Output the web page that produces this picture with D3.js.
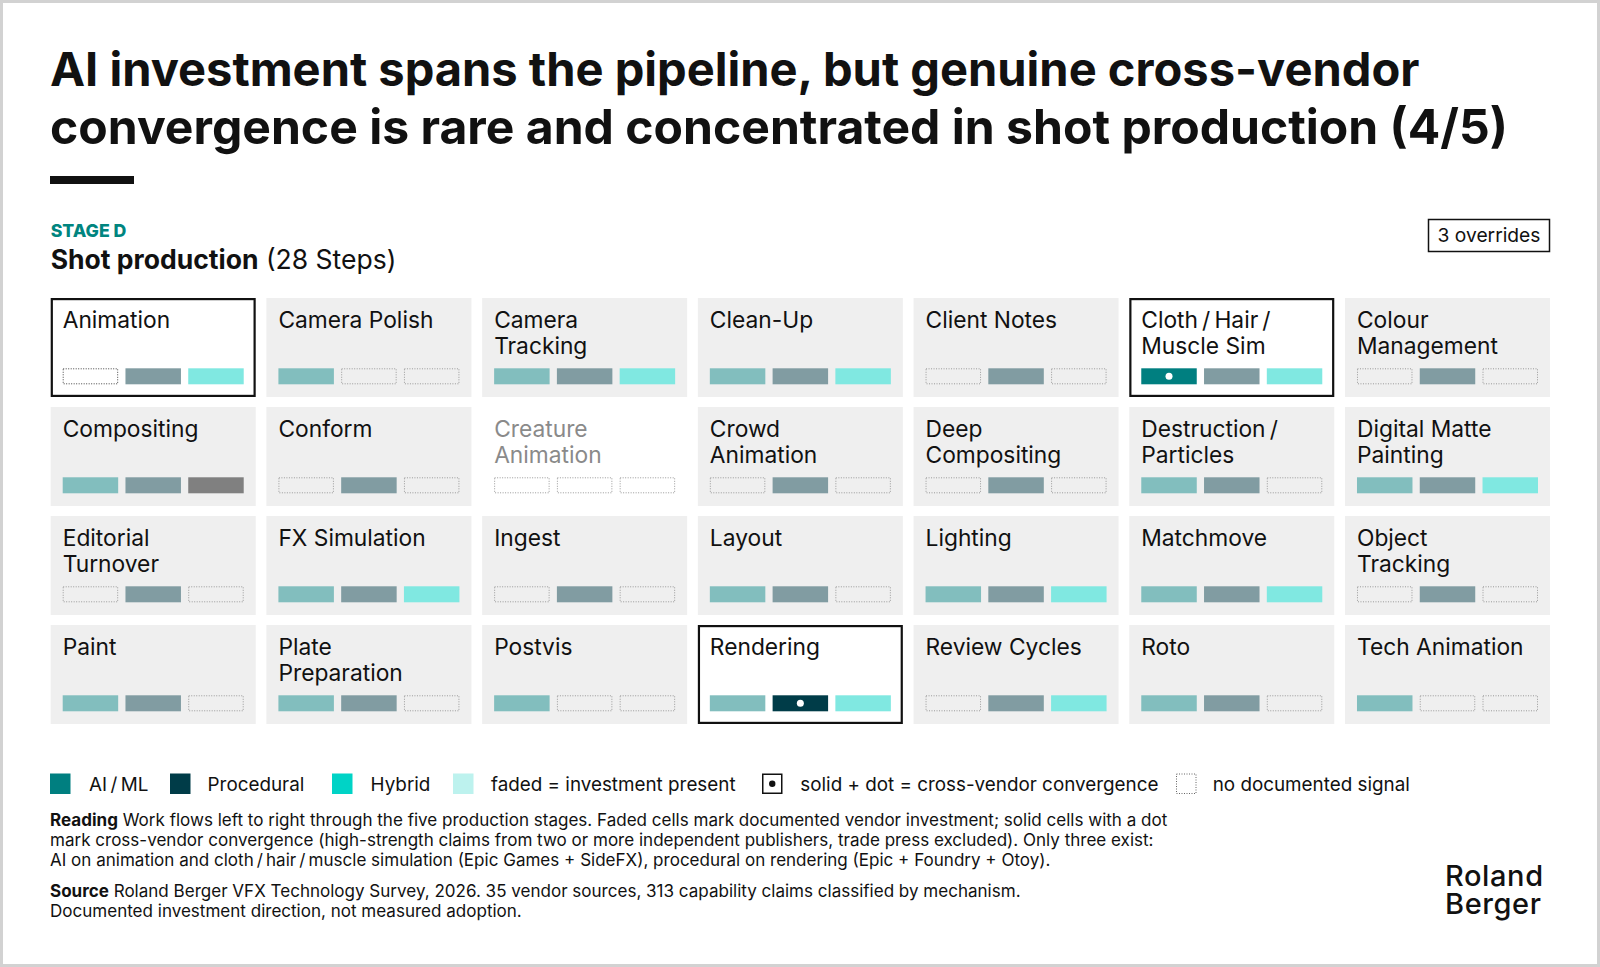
<!DOCTYPE html>
<html><head><meta charset="utf-8">
<script src="https://cdn.jsdelivr.net/npm/d3@7"></script>
<style>
body{margin:0;background:#fff}
svg{display:block}
text{font-family:Inter,"Noto Sans",sans-serif;fill:#111}
</style>
</head><body>
<svg id="chart" width="1600" height="967"></svg>
<script>
// ---------- DATA ----------
const titleLines = [
  "AI investment spans the pipeline, but genuine cross-vendor",
  "convergence is rare and concentrated in shot production (4/5)"
];
const stageLabel = "STAGE D";
const stageName = "Shot production";
const stageCount = "(28 Steps)";
const overridesLabel = "3 overrides";

const steps = [
  "Animation","Camera Polish","Camera\nTracking","Clean-Up","Client Notes","Cloth\u2009/\u2009Hair\u2009/\nMuscle Sim","Colour\nManagement",
  "Compositing","Conform","Creature\nAnimation","Crowd\nAnimation","Deep\nCompositing","Destruction\u2009/\nParticles","Digital Matte\nPainting",
  "Editorial\nTurnover","FX Simulation","Ingest","Layout","Lighting","Matchmove","Object\nTracking",
  "Paint","Plate\nPreparation","Postvis","Rendering","Review Cycles","Roto","Tech Animation"
];
const mechanisms = ["AI/ML","Procedural","Hybrid"];
// 0 = no documented signal, 1 = faded (investment present), 2 = solid + dot (convergence), 3 = other (grey)
const aiml       = [0,1,1,1,0,2,0, 1,0,0,0,0,1,1, 0,1,0,1,1,1,0, 1,1,1,1,0,1,1];
const procedural = [1,0,1,1,1,1,1, 1,1,0,1,1,1,1, 1,1,1,1,1,1,1, 1,1,0,2,1,1,0];
const hybrid     = [1,0,1,1,0,1,0, 3,0,0,0,0,0,1, 0,1,0,0,1,1,0, 0,0,0,1,1,0,0];
const overrides  = ["Animation","Cloth\u2009/\u2009Hair\u2009/\nMuscle Sim","Rendering"];
const inactive   = ["Creature\nAnimation"];

const legendItems = [
  {label:"AI\u2009/\u2009ML", kind:"solid0"},
  {label:"Procedural", kind:"solid1"},
  {label:"Hybrid", kind:"solid2"},
  {label:"faded = investment present", kind:"faded"},
  {label:"solid + dot = cross-vendor convergence", kind:"dot"},
  {label:"no documented signal", kind:"none"}
];
const readingLines = [
  ["Reading"," Work flows left to right through the five production stages. Faded cells mark documented vendor investment; solid cells with a dot"],
  ["","mark cross-vendor convergence (high-strength claims from two or more independent publishers, trade press excluded). Only three exist:"],
  ["","AI on animation and cloth\u2009/\u2009hair\u2009/\u2009muscle simulation (Epic Games + SideFX), procedural on rendering (Epic + Foundry + Otoy)."]
];
const sourceLines = [
  ["Source"," Roland Berger VFX Technology Survey, 2026. 35 vendor sources, 313 capability claims classified by mechanism."],
  ["","Documented investment direction, not measured adoption."]
];
const logoLines = ["Roland","Berger"];

// ---------- STYLE ----------
const solidCol = ["#007f80","#003c48","#00d3c6"];
const fadedCol = ["#82bebe","#819ca2","#80e8e1"];
const greyCol = "#808080";
const fadedLegend = "#bdf2ee";
const teal = "#00857f";

const svg = d3.select("#chart");
svg.append("rect").attr("x",1.5).attr("y",1.5).attr("width",1597).attr("height",964)
  .attr("fill","#fff").attr("stroke","#d2d2d2").attr("stroke-width",3);

function fit(sel, target){
  const w = sel.node().getComputedTextLength();
  const fs = parseFloat(sel.attr("font-size"));
  const nf = fs*target/w;
  sel.attr("font-size", nf);
  return nf;
}
function probe(txt, fs, weight, target){
  const t = svg.append("text").attr("font-size",fs).attr("font-weight",weight).text(txt);
  const w = t.node().getComputedTextLength(); t.remove();
  return fs*target/w;
}

// ---------- TITLE ----------
const titleW = [1370, 1458];
titleLines.forEach((l,i)=>{
  const t = svg.append("text").attr("x",50).attr("y",[86,144][i]).attr("font-size",50)
    .attr("font-weight",700).text(l);
  fit(t, titleW[i]);
});
svg.append("rect").attr("x",50).attr("y",176).attr("width",84).attr("height",8).attr("fill","#111");

// ---------- STAGE HEADER ----------
const st = svg.append("text").attr("x",50.7).attr("y",236.7).attr("font-size",16).attr("font-weight",800)
  .style("fill",teal).text(stageLabel);
fit(st, 75.7);
const sh = svg.append("text").attr("x",50.7).attr("y",268.5).attr("font-size",25);
sh.append("tspan").attr("font-weight",700).text(stageName);
sh.append("tspan").attr("font-weight",400).text(" "+stageCount);
fit(sh, 346);

const ob = svg.append("g");
ob.append("rect").attr("x",1428.5).attr("y",219.5).attr("width",121).attr("height",32)
  .attr("fill","#fff").attr("stroke","#111").attr("stroke-width",1.5);
const ot = ob.append("text").attr("x",1489).attr("y",241.5).attr("text-anchor","middle")
  .attr("font-size",19).text(overridesLabel);
fit(ot, 103);

// ---------- GRID ----------
const cols = 7;
const x = d3.scaleBand().domain(d3.range(cols)).range([50.7,1550]).paddingInner(0.0496).paddingOuter(0);
const y = d3.scaleBand().domain(d3.range(4)).range([298,724]).paddingInner(0.0917).paddingOuter(0);
const sx = d3.scaleBand().domain(mechanisms).range([12, x.bandwidth()-12]).paddingInner(0.116).paddingOuter(0);
const swY = 70.3, swH = 16;

const lfs = probe("Camera Polish", 22, 400, 155);
const series = [aiml, procedural, hybrid];

const cells = svg.append("g").selectAll("g").data(steps).join("g")
  .attr("transform",(d,i)=>`translate(${x(i%cols)},${y(Math.floor(i/cols))})`);

cells.each(function(d,i){
  const g = d3.select(this);
  const isOv = overrides.includes(d), isIn = inactive.includes(d);
  g.append("rect").attr("width",x.bandwidth()).attr("height",y.bandwidth())
    .attr("fill", (isOv||isIn) ? "#fff" : "#efefef");
  if(isOv){
    g.append("rect").attr("x",1.1).attr("y",1.1).attr("width",x.bandwidth()-2.2).attr("height",y.bandwidth()-2.2)
      .attr("fill","none").attr("stroke","#111").attr("stroke-width",2.2);
  }
  const t = g.append("text").attr("x",12).attr("y",30.3).attr("font-size",lfs)
    .style("fill", isIn ? "#8a8a8a" : "#111");
  d.split("\n").forEach((ln,k)=>{
    t.append("tspan").attr("x",12).attr("y",30.3+k*25.4).text(ln);
  });
  mechanisms.forEach((m,j)=>{
    const v = series[j][i];
    const xx = sx(m), w = sx.bandwidth();
    if(v===0){
      g.append("rect").attr("x",xx+0.5).attr("y",swY+0.5).attr("width",w-1).attr("height",swH-1)
        .attr("fill","none").attr("stroke", isOv ? "#444" : "#999").attr("stroke-width",1)
        .attr("stroke-dasharray","1,1.5");
    } else {
      const col = v===1 ? fadedCol[j] : v===2 ? solidCol[j] : greyCol;
      g.append("rect").attr("x",xx).attr("y",swY).attr("width",w).attr("height",swH).attr("fill",col);
      if(v===2){
        g.append("circle").attr("cx",xx+w/2).attr("cy",swY+swH/2).attr("r",3.5).attr("fill","#fff");
      }
    }
  });
});

// ---------- LEGEND ----------
const legX = [50,170,332,453,762,1176];
const legTX = [89,207.6,370.6,491,800.3,1212.7];
const legfs = probe(legendItems[3].label, 19, 400, 244.6);
const lg = svg.append("g");
legendItems.forEach((it,i)=>{
  const sy = 773.5, s = 20.5;
  if(it.kind.startsWith("solid")){
    lg.append("rect").attr("x",legX[i]).attr("y",sy).attr("width",s).attr("height",s).attr("fill",solidCol[+it.kind.slice(5)]);
  } else if(it.kind==="faded"){
    lg.append("rect").attr("x",legX[i]).attr("y",sy).attr("width",s).attr("height",s).attr("fill",fadedLegend);
  } else if(it.kind==="dot"){
    lg.append("rect").attr("x",legX[i]+0.75).attr("y",sy+0.75).attr("width",s-1.5).attr("height",s-1.5)
      .attr("fill","#fff").attr("stroke","#111").attr("stroke-width",1.5);
    lg.append("circle").attr("cx",legX[i]+s/2).attr("cy",sy+s/2).attr("r",3.2).attr("fill","#111");
  } else {
    lg.append("rect").attr("x",legX[i]+0.5).attr("y",sy+0.5).attr("width",s-1).attr("height",s-1)
      .attr("fill","none").attr("stroke","#666").attr("stroke-width",1).attr("stroke-dasharray","1,1.5");
  }
  lg.append("text").attr("x",legTX[i]).attr("y",791).attr("font-size",legfs).text(it.label);
});

// ---------- NOTES ----------
function para(lines, ys, fs){
  lines.forEach((l,i)=>{
    const t = svg.append("text").attr("x",50).attr("y",ys[i]).attr("font-size",fs);
    if(l[0]) t.append("tspan").attr("font-weight",700).text(l[0]);
    t.append("tspan").attr("font-weight",400).text(l[1]);
  });
}
const pfs = (function(){
  const t = svg.append("text").attr("font-size",16);
  t.append("tspan").attr("font-weight",700).text(readingLines[0][0]);
  t.append("tspan").text(readingLines[0][1]);
  const w = t.node().getComputedTextLength(); t.remove();
  return 16*1118/w;
})();
para(readingLines,[825.5,846,866],pfs);
para(sourceLines,[896.5,917],pfs);

// ---------- LOGO ----------
const logo = svg.append("text").attr("font-size",29).attr("font-weight",500).attr("letter-spacing",0.6);
logoLines.forEach((l,i)=>{
  logo.append("tspan").attr("x",1445).attr("y",[885.5,913.5][i]).text(l);
});
</script>
</body></html>
